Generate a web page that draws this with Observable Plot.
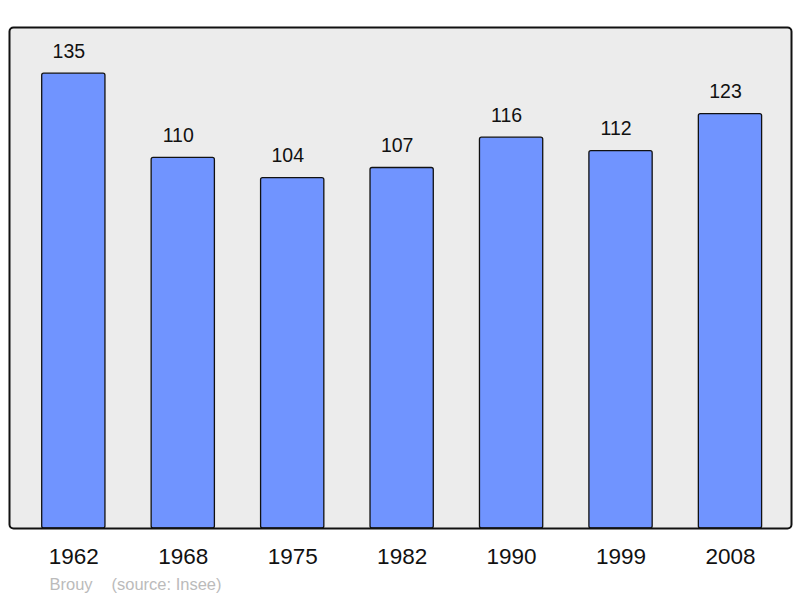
<!DOCTYPE html>
<html>
<head>
<meta charset="utf-8">
<script src="https://cdn.jsdelivr.net/npm/d3@7"></script>
<script src="https://cdn.jsdelivr.net/npm/@observablehq/plot@0.6"></script>
<style>
  html, body { margin: 0; padding: 0; background: #fff; }
  svg { display: block; font-family: "Liberation Sans", Arial, sans-serif; }
</style>
</head>
<body>
<div id="chart"></div>
<script>
const years = ["1962", "1968", "1975", "1982", "1990", "1999", "2008"];
const population = [135, 110, 104, 107, 116, 112, 123];
const place = "Brouy";
const source = "(source: Insee)";

const data = years.map((y, i) => ({year: y, value: population[i]}));

const chart = Plot.plot({
  width: 800,
  height: 598,
  marginLeft: 9,
  marginRight: 9,
  marginTop: 27,
  marginBottom: 70,
  style: {fontFamily: "Liberation Sans, Arial, sans-serif", background: "#fff"},
  x: {domain: years, paddingInner: 0.422, paddingOuter: 0.211, insetLeft: 9.6, insetRight: 6.3, round: false, label: null},
  y: {domain: [0, 148.7], axis: null},
  marks: [
    Plot.frame({fill: "#ececec", stroke: "none"}),
    Plot.barY(data, {x: "year", y: "value", fill: "#7094ff", stroke: "#111", strokeWidth: 1.3, rx: 2}),
    Plot.text(data, {x: "year", y: "value", text: d => String(d.value), dx: -5, dy: -16, lineAnchor: "bottom", fontSize: 19.5, fill: "#111"}),
    Plot.frame({stroke: "#111", strokeWidth: 2, rx: 4}),
    Plot.axisX({tickSize: 0, tickPadding: 20, fontSize: 22.5, fill: "#111", label: null}),
    Plot.text([place], {frameAnchor: "bottom-left", dx: 40, dy: 61, lineAnchor: "bottom", text: d => d, textAnchor: "start", fontSize: 16.5, fill: "#bbb"}),
    Plot.text([source], {frameAnchor: "bottom-left", dx: 102, dy: 61, lineAnchor: "bottom", text: d => d, textAnchor: "start", fontSize: 16.5, fill: "#bbb"})
  ]
});
document.getElementById("chart").appendChild(chart);
</script>
</body>
</html>
